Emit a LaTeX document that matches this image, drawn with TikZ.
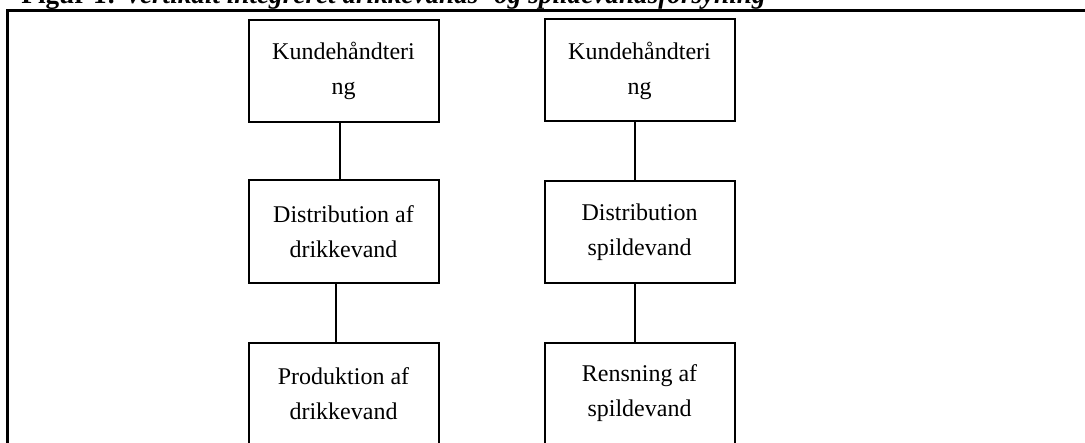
\documentclass[tikz,border=0pt]{standalone}
\usepackage{fontspec}
\setmainfont{Liberation Serif}
\usepackage{tikz}

\begin{document}
\begin{tikzpicture}[x=0.5pt,y=-0.5pt,
  boks/.style={draw, line width=1pt, minimum width=95pt, minimum height=51pt,
    inner sep=0pt, align=center, font=\fontsize{12}{17.5}\selectfont},
  streg/.style={line width=1pt}]
\clip (0,0) rectangle (1085,443);
% title, cut off at the top
\node [anchor=base west, inner sep=0pt, font=\fontsize{13.6}{15}\selectfont\bfseries] (titel) at (21,4)
  {Figur 1: \textit{Vertikalt integreret drikkevands- og spildevandsforsyning}};
\draw [line width=1.5pt] (7,10.5) rectangle (1110,470);
% drikkevand
\node [boks] (kunde1) at (343.5,71) {Kundehåndteri\\ng};
\node [boks] (distr1) at (343.5,231.5) {Distribution af\\drikkevand};
\node [boks] (prod1) at (343.5,393.5) {Produktion af\\drikkevand};
% spildevand
\node [boks] (kunde2) at (639.5,70.5) {Kundehåndteri\\ng};
\node [boks] (distr2) at (639.5,232) {Distribution\\spildevand};
\node [boks] (rens2) at (639.5,393.5) {Rensning af\\spildevand};
\draw [streg] ([xshift=-1.8pt]kunde1.south) -- ([xshift=-1.8pt]distr1.north);
\draw [streg] ([xshift=-3.7pt]distr1.south) -- ([xshift=-3.7pt]prod1.north);
\draw [streg] ([xshift=-2.2pt]kunde2.south) -- ([xshift=-2.2pt]distr2.north);
\draw [streg] ([xshift=-2.2pt]distr2.south) -- ([xshift=-2.2pt]rens2.north);
\end{tikzpicture}
\end{document}
